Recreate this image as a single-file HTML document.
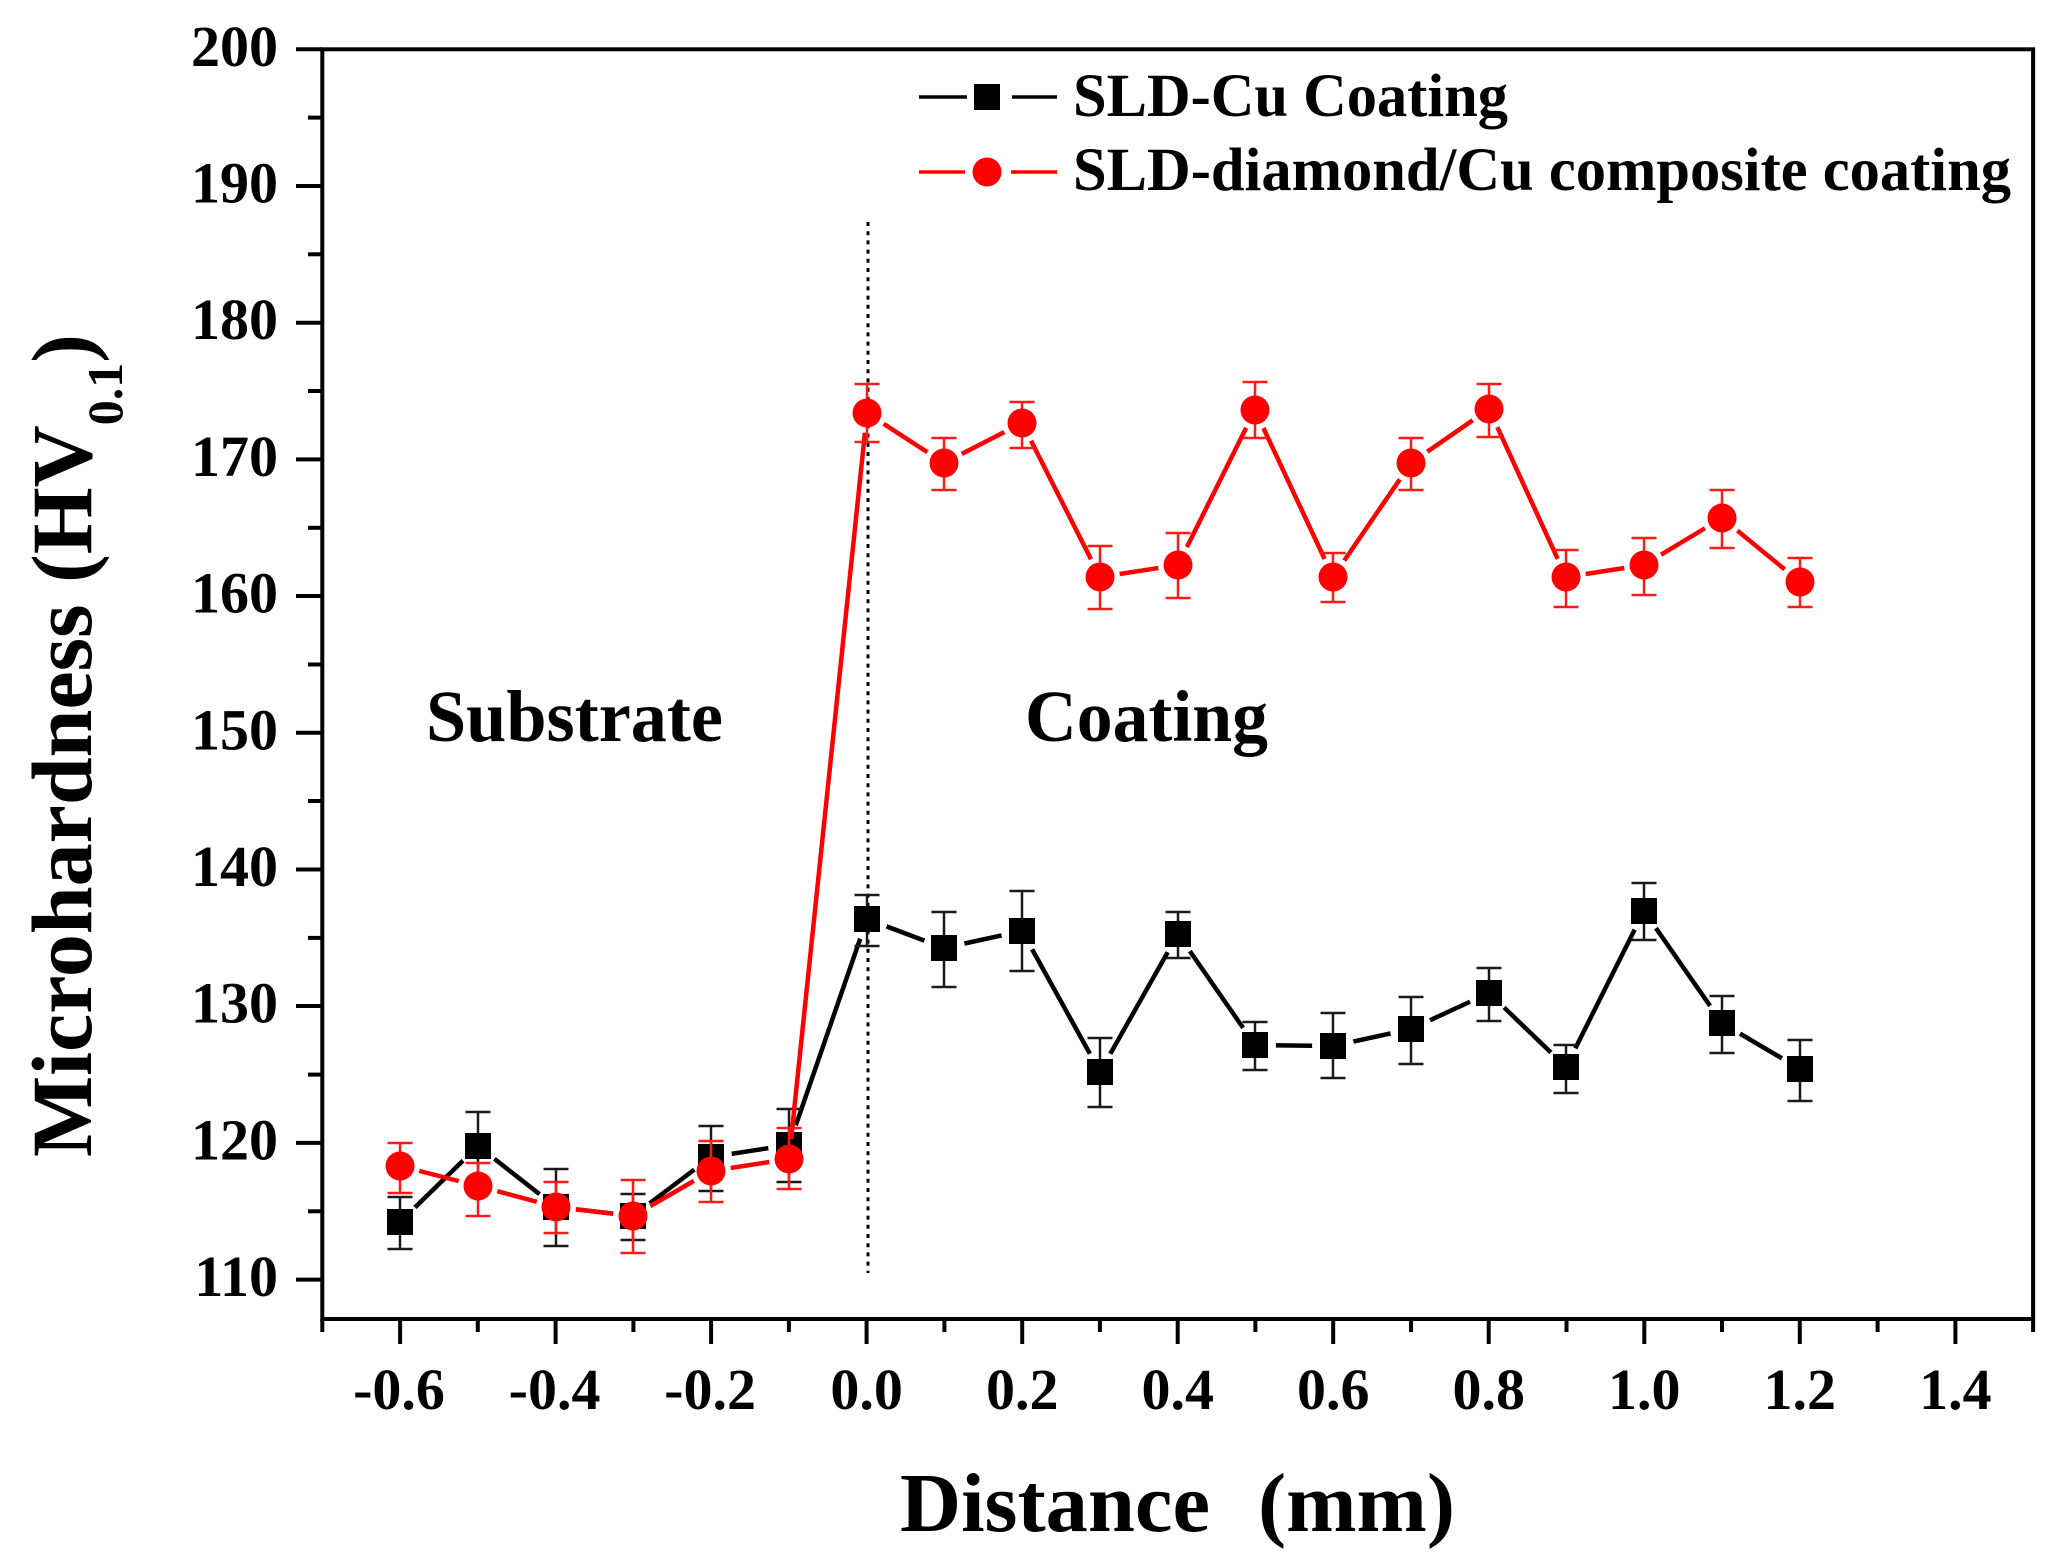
<!DOCTYPE html>
<html>
<head>
<meta charset="utf-8">
<style>
html,body{margin:0;padding:0;background:#fff;}
svg{display:block;}
text{font-family:"Liberation Serif","Times New Roman",serif;font-weight:bold;fill:#000;}
</style>
</head>
<body>
<svg width="2068" height="1568" viewBox="0 0 2068 1568" xmlns="http://www.w3.org/2000/svg">
<defs>
<mask id="mb" maskUnits="userSpaceOnUse" x="0" y="0" width="2068" height="1568">
<rect x="0" y="0" width="2068" height="1568" fill="#fff"/>
<g fill="#000">
<circle cx="400" cy="1222" r="21"/><circle cx="478" cy="1146" r="21"/><circle cx="556" cy="1207" r="21"/><circle cx="633" cy="1216" r="21"/><circle cx="711" cy="1157" r="21"/><circle cx="789" cy="1145" r="21"/><circle cx="867" cy="919" r="21"/><circle cx="944" cy="948" r="21"/><circle cx="1022" cy="931" r="21"/><circle cx="1100" cy="1072" r="21"/><circle cx="1178" cy="934" r="21"/><circle cx="1255" cy="1045" r="21"/><circle cx="1333" cy="1046" r="21"/><circle cx="1411" cy="1029" r="21"/><circle cx="1489" cy="993" r="21"/><circle cx="1566" cy="1067" r="21"/><circle cx="1644" cy="911" r="21"/><circle cx="1722" cy="1023" r="21"/><circle cx="1800" cy="1069" r="21"/>
</g>
</mask>
<mask id="mr" maskUnits="userSpaceOnUse" x="0" y="0" width="2068" height="1568">
<rect x="0" y="0" width="2068" height="1568" fill="#fff"/>
<g fill="#000">
<circle cx="400" cy="1166" r="20"/><circle cx="478" cy="1186" r="20"/><circle cx="556" cy="1207" r="20"/><circle cx="633" cy="1216" r="20"/><circle cx="711" cy="1171" r="20"/><circle cx="789" cy="1159" r="20"/><circle cx="867" cy="413" r="20"/><circle cx="944" cy="463" r="20"/><circle cx="1022" cy="423" r="20"/><circle cx="1100" cy="577" r="20"/><circle cx="1178" cy="565" r="20"/><circle cx="1255" cy="410" r="20"/><circle cx="1333" cy="577" r="20"/><circle cx="1411" cy="463" r="20"/><circle cx="1489" cy="409" r="20"/><circle cx="1566" cy="577" r="20"/><circle cx="1644" cy="565" r="20"/><circle cx="1722" cy="518" r="20"/><circle cx="1800" cy="582" r="20"/>
</g>
</mask>
</defs>

<rect x="0" y="0" width="2068" height="1568" fill="#fff"/>

<!-- dotted vertical line at x=0 -->
<line x1="868" y1="222" x2="868" y2="1273" stroke="#000" stroke-width="3" stroke-dasharray="4 5.2"/>

<!-- axes frame -->
<rect x="322.3" y="49.3" width="1710.8" height="1269.7" fill="none" stroke="#000" stroke-width="4"/>

<!-- y ticks -->
<g stroke="#000" stroke-width="4">
<line x1="296" y1="49.3" x2="322" y2="49.3"/>
<line x1="296" y1="186" x2="322" y2="186"/>
<line x1="296" y1="322.7" x2="322" y2="322.7"/>
<line x1="296" y1="459.4" x2="322" y2="459.4"/>
<line x1="296" y1="596" x2="322" y2="596"/>
<line x1="296" y1="732.8" x2="322" y2="732.8"/>
<line x1="296" y1="869.5" x2="322" y2="869.5"/>
<line x1="296" y1="1006" x2="322" y2="1006"/>
<line x1="296" y1="1142.9" x2="322" y2="1142.9"/>
<line x1="296" y1="1279.6" x2="322" y2="1279.6"/>
<line x1="308" y1="117.6" x2="322" y2="117.6"/>
<line x1="308" y1="254.3" x2="322" y2="254.3"/>
<line x1="308" y1="391" x2="322" y2="391"/>
<line x1="308" y1="527.8" x2="322" y2="527.8"/>
<line x1="308" y1="664.5" x2="322" y2="664.5"/>
<line x1="308" y1="801" x2="322" y2="801"/>
<line x1="308" y1="937.9" x2="322" y2="937.9"/>
<line x1="308" y1="1074.6" x2="322" y2="1074.6"/>
<line x1="308" y1="1211.3" x2="322" y2="1211.3"/>
</g>

<!-- x ticks -->
<g stroke="#000" stroke-width="4">
<line x1="400.1" y1="1319" x2="400.1" y2="1344"/>
<line x1="555.6" y1="1319" x2="555.6" y2="1344"/>
<line x1="711.1" y1="1319" x2="711.1" y2="1344"/>
<line x1="866.6" y1="1319" x2="866.6" y2="1344"/>
<line x1="1022.2" y1="1319" x2="1022.2" y2="1344"/>
<line x1="1177.7" y1="1319" x2="1177.7" y2="1344"/>
<line x1="1333.2" y1="1319" x2="1333.2" y2="1344"/>
<line x1="1488.7" y1="1319" x2="1488.7" y2="1344"/>
<line x1="1644.3" y1="1319" x2="1644.3" y2="1344"/>
<line x1="1799.8" y1="1319" x2="1799.8" y2="1344"/>
<line x1="1955.4" y1="1319" x2="1955.4" y2="1344"/>
<line x1="322.3" y1="1319" x2="322.3" y2="1332"/>
<line x1="477.8" y1="1319" x2="477.8" y2="1332"/>
<line x1="633.4" y1="1319" x2="633.4" y2="1332"/>
<line x1="788.9" y1="1319" x2="788.9" y2="1332"/>
<line x1="944.4" y1="1319" x2="944.4" y2="1332"/>
<line x1="1099.9" y1="1319" x2="1099.9" y2="1332"/>
<line x1="1255.4" y1="1319" x2="1255.4" y2="1332"/>
<line x1="1411" y1="1319" x2="1411" y2="1332"/>
<line x1="1566.5" y1="1319" x2="1566.5" y2="1332"/>
<line x1="1722" y1="1319" x2="1722" y2="1332"/>
<line x1="1877.6" y1="1319" x2="1877.6" y2="1332"/>
<line x1="2033.1" y1="1319" x2="2033.1" y2="1332"/>
</g>

<!-- y tick labels -->
<g font-size="58" text-anchor="end">
<text x="278" y="66">200</text>
<text x="278" y="202.5">190</text>
<text x="278" y="339.2">180</text>
<text x="278" y="475.9">170</text>
<text x="278" y="612.5">160</text>
<text x="278" y="749.3">150</text>
<text x="278" y="886">140</text>
<text x="278" y="1022.5">130</text>
<text x="278" y="1159.4">120</text>
<text x="278" y="1296.1">110</text>
</g>

<!-- x tick labels -->
<g font-size="58" text-anchor="middle">
<text x="399" y="1409">-0.6</text>
<text x="554.6" y="1409">-0.4</text>
<text x="710.1" y="1409">-0.2</text>
<text x="866.6" y="1409">0.0</text>
<text x="1022.2" y="1409">0.2</text>
<text x="1177.7" y="1409">0.4</text>
<text x="1333.2" y="1409">0.6</text>
<text x="1488.7" y="1409">0.8</text>
<text x="1644.3" y="1409">1.0</text>
<text x="1799.8" y="1409">1.2</text>
<text x="1955.4" y="1409">1.4</text>
</g>

<!-- axis titles -->
<text x="900" y="1531" font-size="84" textLength="310" lengthAdjust="spacingAndGlyphs">Distance</text>
<text x="1258" y="1531" font-size="84" textLength="197" lengthAdjust="spacingAndGlyphs">(mm)</text>

<text transform="translate(91,1157) rotate(-90)" font-size="86">Microhardness (HV<tspan font-size="50" dy="31">0.1</tspan><tspan dy="-31">)</tspan></text>

<!-- region labels -->
<text x="426" y="741" font-size="73" textLength="297" lengthAdjust="spacingAndGlyphs">Substrate</text>
<text x="1025" y="741" font-size="73" textLength="243" lengthAdjust="spacingAndGlyphs">Coating</text>

<!-- Black series -->
<polyline mask="url(#mb)" fill="none" stroke="#000" stroke-width="4.5" stroke-linejoin="round" points="400,1222 478,1146 556,1207 633,1216 711,1157 789,1145 867,919 944,948 1022,931 1100,1072 1178,934 1255,1045 1333,1046 1411,1029 1489,993 1566,1067 1644,911 1722,1023 1800,1069"/>
<path fill="none" stroke="#1a1a1a" stroke-width="2.5" d="M400 1197V1249M387.5 1197h25M387.5 1249h25
M478 1112V1180M465.5 1112h25M465.5 1180h25
M556 1169V1246M543.5 1169h25M543.5 1246h25
M633 1194V1240M620.5 1194h25M620.5 1240h25
M711 1126V1191M698.5 1126h25M698.5 1191h25
M789 1109V1182M776.5 1109h25M776.5 1182h25
M867 895V946M854.5 895h25M854.5 946h25
M944 912V987M931.5 912h25M931.5 987h25
M1022 891V971M1009.5 891h25M1009.5 971h25
M1100 1038V1107M1087.5 1038h25M1087.5 1107h25
M1178 912V958M1165.5 912h25M1165.5 958h25
M1255 1022V1070M1242.5 1022h25M1242.5 1070h25
M1333 1013V1078M1320.5 1013h25M1320.5 1078h25
M1411 997V1064M1398.5 997h25M1398.5 1064h25
M1489 968V1021M1476.5 968h25M1476.5 1021h25
M1566 1045V1093M1553.5 1045h25M1553.5 1093h25
M1644 883V940M1631.5 883h25M1631.5 940h25
M1722 996V1053M1709.5 996h25M1709.5 1053h25
M1800 1040V1101M1787.5 1040h25M1787.5 1101h25"/>
<g fill="#000">
<rect x="387" y="1209" width="26" height="26"/>
<rect x="465" y="1133" width="26" height="26"/>
<rect x="543" y="1194" width="26" height="26"/>
<rect x="620" y="1203" width="26" height="26"/>
<rect x="698" y="1144" width="26" height="26"/>
<rect x="776" y="1132" width="26" height="26"/>
<rect x="854" y="906" width="26" height="26"/>
<rect x="931" y="935" width="26" height="26"/>
<rect x="1009" y="918" width="26" height="26"/>
<rect x="1087" y="1059" width="26" height="26"/>
<rect x="1165" y="921" width="26" height="26"/>
<rect x="1242" y="1032" width="26" height="26"/>
<rect x="1320" y="1033" width="26" height="26"/>
<rect x="1398" y="1016" width="26" height="26"/>
<rect x="1476" y="980" width="26" height="26"/>
<rect x="1553" y="1054" width="26" height="26"/>
<rect x="1631" y="898" width="26" height="26"/>
<rect x="1709" y="1010" width="26" height="26"/>
<rect x="1787" y="1056" width="26" height="26"/>
</g>

<!-- Red series -->
<polyline mask="url(#mr)" fill="none" stroke="#ff0000" stroke-width="4.5" stroke-linejoin="round" points="400,1166 478,1186 556,1207 633,1216 711,1171 789,1159 867,413 944,463 1022,423 1100,577 1178,565 1255,410 1333,577 1411,463 1489,409 1566,577 1644,565 1722,518 1800,582"/>
<path fill="none" stroke="#ff1a1a" stroke-width="2.5" d="M400 1143V1193M387.5 1143h25M387.5 1193h25
M478 1163V1216M465.5 1163h25M465.5 1216h25
M556 1182V1233M543.5 1182h25M543.5 1233h25
M633 1180V1253M620.5 1180h25M620.5 1253h25
M711 1141V1202M698.5 1141h25M698.5 1202h25
M789 1128V1189M776.5 1128h25M776.5 1189h25
M867 384V442M854.5 384h25M854.5 442h25
M944 438V490M931.5 438h25M931.5 490h25
M1022 402V448M1009.5 402h25M1009.5 448h25
M1100 546V609M1087.5 546h25M1087.5 609h25
M1178 533V598M1165.5 533h25M1165.5 598h25
M1255 382V438M1242.5 382h25M1242.5 438h25
M1333 553V602M1320.5 553h25M1320.5 602h25
M1411 438V490M1398.5 438h25M1398.5 490h25
M1489 384V437M1476.5 384h25M1476.5 437h25
M1566 550V607M1553.5 550h25M1553.5 607h25
M1644 538V595M1631.5 538h25M1631.5 595h25
M1722 490V548M1709.5 490h25M1709.5 548h25
M1800 558V607M1787.5 558h25M1787.5 607h25"/>
<g fill="#ff0000">
<circle cx="400" cy="1166" r="14.5"/><circle cx="478" cy="1186" r="14.5"/><circle cx="556" cy="1207" r="14.5"/><circle cx="633" cy="1216" r="14.5"/><circle cx="711" cy="1171" r="14.5"/><circle cx="789" cy="1159" r="14.5"/><circle cx="867" cy="413" r="14.5"/><circle cx="944" cy="463" r="14.5"/><circle cx="1022" cy="423" r="14.5"/><circle cx="1100" cy="577" r="14.5"/><circle cx="1178" cy="565" r="14.5"/><circle cx="1255" cy="410" r="14.5"/><circle cx="1333" cy="577" r="14.5"/><circle cx="1411" cy="463" r="14.5"/><circle cx="1489" cy="409" r="14.5"/><circle cx="1566" cy="577" r="14.5"/><circle cx="1644" cy="565" r="14.5"/><circle cx="1722" cy="518" r="14.5"/><circle cx="1800" cy="582" r="14.5"/>
</g>

<!-- Legend -->
<g stroke-width="3.5">
<line x1="919" y1="97" x2="967" y2="97" stroke="#000"/>
<line x1="1012" y1="97" x2="1057" y2="97" stroke="#000"/>
<line x1="919" y1="172" x2="965" y2="172" stroke="#ff0000"/>
<line x1="1011" y1="172" x2="1057" y2="172" stroke="#ff0000"/>
</g>
<rect x="974" y="84" width="26" height="26" fill="#000"/>
<circle cx="987" cy="172" r="14.5" fill="#ff0000"/>
<text x="1073" y="116" font-size="61" textLength="435" lengthAdjust="spacingAndGlyphs">SLD-Cu Coating</text>
<text x="1073" y="190" font-size="61" textLength="938" lengthAdjust="spacingAndGlyphs">SLD-diamond/Cu composite coating</text>
</svg>
</body>
</html>
